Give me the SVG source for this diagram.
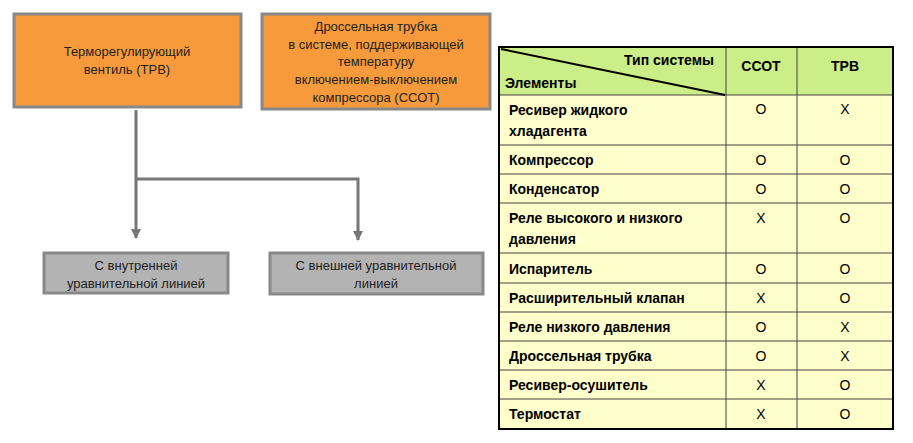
<svg xmlns="http://www.w3.org/2000/svg" width="913" height="443" viewBox="0 0 913 443">
<style>
.o{fill:#f79a3c;stroke:#888;stroke-width:3}
.g{fill:#b3b3b3;stroke:#888;stroke-width:3}
.t{font-family:"Liberation Sans",Arial,sans-serif;font-size:13px;fill:#222;text-anchor:middle}
.b{font-family:"Liberation Sans",Arial,sans-serif;font-size:14px;font-weight:bold;fill:#000}
.c{font-family:"Liberation Sans",Arial,sans-serif;font-size:14px;fill:#000;text-anchor:middle}
.ln{stroke:#777;stroke-width:3;fill:none}
.gl{stroke:#444;stroke-width:1}
</style>
<defs><marker id="ar" viewBox="0 0 10 10" refX="9" refY="5" markerWidth="3.5" markerHeight="3.5" orient="auto"><path d="M0,0L10,5L0,10z" fill="#777"/></marker></defs>
<rect width="913" height="443" fill="#fff"/>
<g id="n1"><rect class="o" x="14" y="14" width="227" height="93"/><text class="t" x="127" y="56">Терморегулирующий</text><text class="t" x="127" y="74">вентиль (ТРВ)</text></g>
<g id="n2"><rect class="o" x="262" y="14" width="228" height="95"/><text class="t" x="376" y="31">Дроссельная трубка</text><text class="t" x="376" y="49">в системе, поддерживающей</text><text class="t" x="376" y="66">температуру</text><text class="t" x="376" y="84">включением-выключением</text><text class="t" x="376" y="102">компрессора (ССОТ)</text></g>
<g id="n3"><rect class="g" x="44" y="253" width="184" height="40"/><text class="t" x="136" y="270">С внутренней</text><text class="t" x="136" y="288">уравнительной линией</text></g>
<g id="n4"><rect class="g" x="270" y="253" width="213" height="41"/><text class="t" x="376" y="270">С внешней уравнительной</text><text class="t" x="376" y="288">линией</text></g>
<g id="edges">
<path class="ln" d="M136,110V238" marker-end="url(#ar)"/>
<path class="ln" d="M136,179H358V240" marker-end="url(#ar)"/>
</g>
<g id="table">
<rect x="499" y="47" width="394" height="48" fill="#ccee88"/>
<rect x="499" y="95" width="394" height="334" fill="#ffffcc"/>
<g class="gl">
<line x1="726" y1="47" x2="726" y2="429"/><line x1="797" y1="47" x2="797" y2="429"/>
<line x1="499" y1="95" x2="893" y2="95"/><line x1="499" y1="145" x2="893" y2="145"/><line x1="499" y1="174" x2="893" y2="174"/><line x1="499" y1="203" x2="893" y2="203"/><line x1="499" y1="253" x2="893" y2="253"/><line x1="499" y1="283" x2="893" y2="283"/><line x1="499" y1="312" x2="893" y2="312"/><line x1="499" y1="341" x2="893" y2="341"/><line x1="499" y1="370" x2="893" y2="370"/><line x1="499" y1="399" x2="893" y2="399"/>
</g>
<line x1="501" y1="49" x2="725" y2="95" stroke="#000" stroke-width="2"/>
<rect x="499" y="47" width="394" height="382" fill="none" stroke="#000" stroke-width="2"/>
<text class="b" x="714" y="65" text-anchor="end">Тип системы</text>
<text class="b" x="505" y="88">Элементы</text>
<text class="b" x="761" y="71" text-anchor="middle">ССОТ</text>
<text class="b" x="845" y="71" text-anchor="middle">ТРВ</text>
<g class="b">
<text x="509" y="115">Ресивер жидкого</text><text x="509" y="136">хладагента</text>
<text x="509" y="165">Компрессор</text>
<text x="509" y="194">Конденсатор</text>
<text x="509" y="223">Реле высокого и низкого</text><text x="509" y="244">давления</text>
<text x="509" y="274">Испаритель</text>
<text x="509" y="303">Расширительный клапан</text>
<text x="509" y="332">Реле низкого давления</text>
<text x="509" y="361">Дроссельная трубка</text>
<text x="509" y="390">Ресивер-осушитель</text>
<text x="509" y="419">Термостат</text>
</g>
<g class="c">
<text x="761" y="114">O</text><text x="845" y="114">X</text>
<text x="761" y="165">O</text><text x="845" y="165">O</text>
<text x="761" y="194">O</text><text x="845" y="194">O</text>
<text x="761" y="223">X</text><text x="845" y="223">O</text>
<text x="761" y="274">O</text><text x="845" y="274">O</text>
<text x="761" y="303">X</text><text x="845" y="303">O</text>
<text x="761" y="332">O</text><text x="845" y="332">X</text>
<text x="761" y="361">O</text><text x="845" y="361">X</text>
<text x="761" y="390">X</text><text x="845" y="390">O</text>
<text x="761" y="419">X</text><text x="845" y="419">O</text>
</g>
</g>
</svg>
